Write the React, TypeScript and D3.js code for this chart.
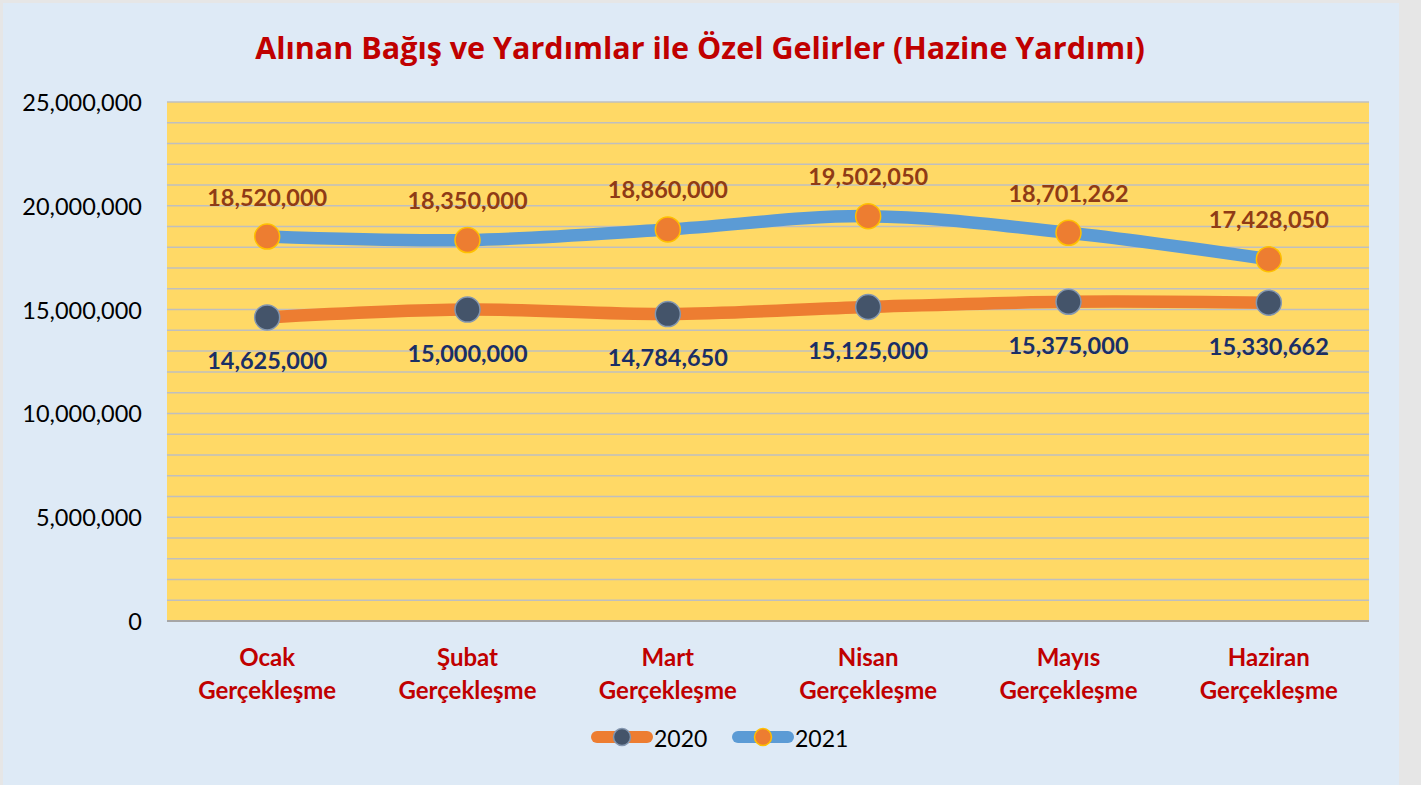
import React from 'react';
import * as d3 from 'd3';

const title = 'Alınan Bağış ve Yardımlar ile Özel Gelirler (Hazine Yardımı)';
const categories = ['Ocak', 'Şubat', 'Mart', 'Nisan', 'Mayıs', 'Haziran'];
const categorySuffix = 'Gerçekleşme';
const values2020 = [14625000, 15000000, 14784650, 15125000, 15375000, 15330662];
const values2021 = [18520000, 18350000, 18860000, 19502050, 18701262, 17428050];
const yTicks = [0, 5000000, 10000000, 15000000, 20000000, 25000000];
const yMax = 25000000;
const gridStep = 1000000;
const seriesNames = ['2020', '2021'];

const W = 1421;
const H = 785;
const plot = { left: 167, right: 1369, top: 102, bottom: 621 };
const FONT = 'Lato, "Open Sans", sans-serif';
const TITLE_FONT = '"Open Sans", Lato, sans-serif';

const C = {
  page: '#e6e6e6',
  chartBg: '#deeaf6',
  plotBg: '#ffd966',
  grid: '#bfbfbf',
  axis: '#a6a6a6',
  title: '#c00000',
  line2020: '#ed7d31',
  marker2020: '#44546a',
  marker2020Stroke: '#8497b0',
  line2021: '#5b9bd5',
  marker2021: '#ed7d31',
  marker2021Stroke: '#ffc000',
  label2020: '#1a2f66',
  label2021: '#8f3b16',
};

const fmt = d3.format(',');

export default function App() {
  const x = d3
    .scaleBand<string>()
    .domain(categories)
    .range([plot.left, plot.right]);
  const y = d3.scaleLinear().domain([0, yMax]).range([plot.bottom, plot.top]);
  const cx = (c: string) => (x(c) as number) + x.bandwidth() / 2;

  const line = d3
    .line<number>()
    .x((_, i) => cx(categories[i]))
    .y((d) => y(d))
    .curve(d3.curveCatmullRom.alpha(0.5));

  const grid = d3.range(0, yMax + 1, gridStep);

  const series = [
    {
      name: seriesNames[0],
      values: values2020,
      line: C.line2020,
      fill: C.marker2020,
      stroke: C.marker2020Stroke,
      label: C.label2020,
      dy: 43,
    },
    {
      name: seriesNames[1],
      values: values2021,
      line: C.line2021,
      fill: C.marker2021,
      stroke: C.marker2021Stroke,
      label: C.label2021,
      dy: -40,
    },
  ];

  const legendItems = [
    { ...series[0], x0: 591 },
    { ...series[1], x0: 732 },
  ];

  return (
    <svg
      width={W}
      height={H}
      style={{ position: 'absolute', left: 0, top: 0, display: 'block' }}
      fontFamily={FONT}
    >
      <rect x={0} y={0} width={W} height={H} fill={C.page} />
      <rect x={3} y={3} width={1396} height={H - 3} fill={C.chartBg} />

      <text
        x={700}
        y={47}
        textAnchor="middle"
        dominantBaseline="central"
        fontSize={30.5}
        fontWeight={700}
        fontFamily={TITLE_FONT}
        fill={C.title}
      >
        {title}
      </text>

      <rect
        x={plot.left}
        y={plot.top}
        width={plot.right - plot.left}
        height={plot.bottom - plot.top}
        fill={C.plotBg}
      />
      {grid.map((g) => (
        <line
          key={g}
          x1={plot.left}
          x2={plot.right}
          y1={y(g)}
          y2={y(g)}
          stroke={g === 0 ? C.axis : C.grid}
          strokeWidth={g === 0 ? 2 : 1.5}
        />
      ))}

      {yTicks.map((t) => (
        <text
          key={t}
          x={142}
          y={y(t)}
          textAnchor="end"
          dominantBaseline="central"
          fontSize={23.5}
          fill="#000"
        >
          {fmt(t)}
        </text>
      ))}

      {categories.map((c) => (
        <text
          key={c}
          x={cx(c)}
          textAnchor="middle"
          fontSize={24}
          fontWeight={700}
          fill={C.title}
        >
          <tspan x={cx(c)} y={656} dominantBaseline="central">
            {c}
          </tspan>
          <tspan x={cx(c)} y={689} dominantBaseline="central">
            {categorySuffix}
          </tspan>
        </text>
      ))}

      {series.map((s) => (
        <g key={s.name}>
          <path
            d={line(s.values) || ''}
            fill="none"
            stroke={s.line}
            strokeWidth={12.5}
            strokeLinejoin="round"
          />
          {s.values.map((v, i) => (
            <circle
              key={i}
              cx={cx(categories[i])}
              cy={y(v)}
              r={12.5}
              fill={s.fill}
              stroke={s.stroke}
              strokeWidth={1.5}
            />
          ))}
          {s.values.map((v, i) => (
            <text
              key={'l' + i}
              x={cx(categories[i])}
              y={y(v) + s.dy}
              textAnchor="middle"
              dominantBaseline="central"
              fontSize={23.5}
              fontWeight={700}
              fill={s.label}
            >
              {fmt(v)}
            </text>
          ))}
        </g>
      ))}

      {legendItems.map((s) => (
        <g key={'lg' + s.name}>
          <line
            x1={s.x0 + 6}
            x2={s.x0 + 56}
            y1={737}
            y2={737}
            stroke={s.line}
            strokeWidth={12}
            strokeLinecap="round"
          />
          <circle
            cx={s.x0 + 31}
            cy={737}
            r={8.5}
            fill={s.fill}
            stroke={s.stroke}
            strokeWidth={1.5}
          />
          <text
            x={s.x0 + 63}
            y={738}
            dominantBaseline="central"
            fontSize={23}
            fill="#000"
          >
            {s.name}
          </text>
        </g>
      ))}
    </svg>
  );
}
